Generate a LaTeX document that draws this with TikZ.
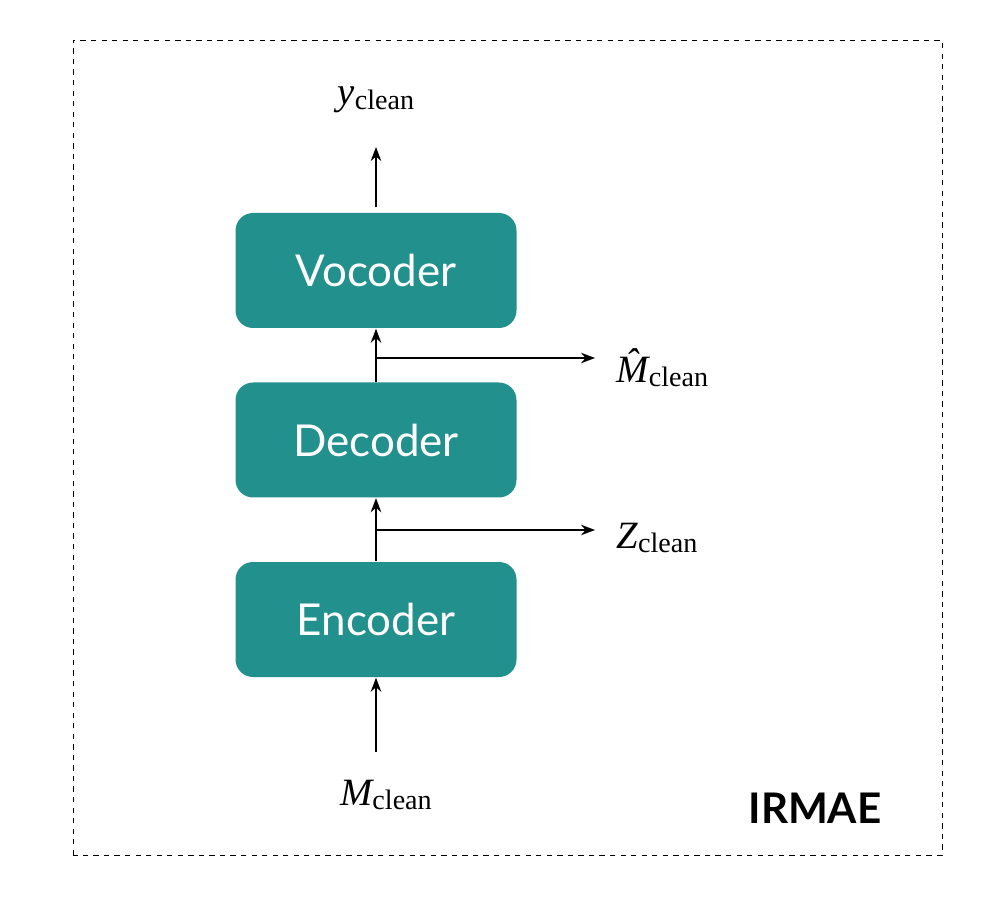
\documentclass[tikz,border=0pt]{standalone}
\usepackage{fontspec}
\setsansfont{Lato}
\newfontfamily\lblfont{Liberation Serif}
\usetikzlibrary{positioning,arrows.meta}
\definecolor{tealblk}{RGB}{34,145,142}
\newcommand{\lbltext}[2]{{\lblfont\itshape #1}{\lblfont\fontsize{16}{18}\selectfont\raisebox{-0.35ex}{#2}}}
\begin{document}
\begin{tikzpicture}[>={Stealth[length=8pt,width=6pt]}, thick]

	% Styles
	\tikzset{block/.style={fill=tealblk, text=white, rounded corners=10pt, align=center, minimum width=5.62cm, minimum height=2.3cm, font=\sffamily\fontsize{25}{28}\selectfont}}
	\tikzset{lbl/.style={font=\fontsize{22}{24}\selectfont}}

	\useasboundingbox (0,0) rectangle (20,18.06);
	\draw[dashed, thin] (1.46,0.96) rectangle (18.84,17.26);

	% Nodes
	\node[block] (enc) at (7.52,5.67) {Encoder};
	\node[block] (dec) at (7.52,9.26) {Decoder};
	\node[block] (voc) at (7.52,12.65) {Vocoder};

	\node[lbl] (y) at (7.52,16.06) {\lbltext{y}{clean}};
	\node[lbl] (m) at (7.72,2.16) {\lbltext{M}{clean}};
	\node[lbl, anchor=west] (z) at (12.2,7.3) {\lbltext{Z}{clean}};
	\node[lbl, anchor=west] (mh) at (12.2,10.7) {\lbltext{\^{M}}{clean}};
	\node[font=\sffamily\bfseries\fontsize{24}{26}\selectfont] (irmae) at (16.3,1.9) {IRMAE};

	\coordinate (ytip) at (7.52,15.12);
	\coordinate (mtail) at (7.52,3.02);
	\coordinate (zbr) at (7.52,7.46);
	\coordinate (mbr) at (7.52,10.9);

	% Arrows
	\draw[->] (mtail) -- (enc.south);
	\draw[->] (enc.north) -- (dec.south);
	\draw[->] (dec.north) -- (voc.south);
	\draw[->] ([yshift=0.1cm]voc.north) -- (ytip);
	\draw[->] (zbr) -- (11.9,7.46);
	\draw[->] (mbr) -- (11.9,10.9);

\end{tikzpicture}
\end{document}
